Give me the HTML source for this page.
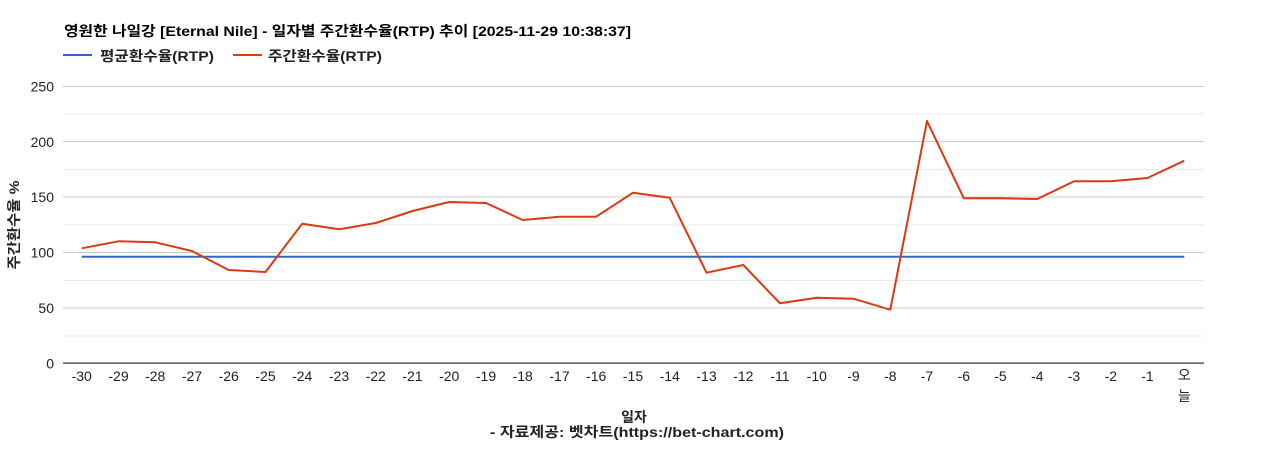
<!DOCTYPE html>
<html>
<head>
<meta charset="utf-8">
<style>
  html, body { margin:0; padding:0; background:#fff; }
  body { width:1268px; height:450px; overflow:hidden; }
  svg { display:block; }
  .t { font-family:"Liberation Sans","Noto Sans CJK KR",sans-serif; }
</style>
</head>
<body>
<svg width="1268" height="450" viewBox="0 0 1268 450" xmlns="http://www.w3.org/2000/svg">
  <rect x="0" y="0" width="1268" height="450" fill="#ffffff"/>

  <!-- Title -->
  <text class="t" x="64" y="36" font-size="14" font-weight="bold" fill="#000" textLength="567" lengthAdjust="spacingAndGlyphs">영원한 나일강 [Eternal Nile] - 일자별 주간환수율(RTP) 추이 [2025-11-29 10:38:37]</text>

  <!-- Legend -->
  <rect x="63" y="54" width="29" height="2" fill="#3366cc"/>
  <text class="t" x="100" y="61" font-size="14" font-weight="bold" fill="#222" textLength="114" lengthAdjust="spacingAndGlyphs">평균환수율(RTP)</text>
  <rect x="233" y="54" width="29" height="2" fill="#dc3912"/>
  <text class="t" x="268" y="61" font-size="14" font-weight="bold" fill="#222" textLength="114" lengthAdjust="spacingAndGlyphs">주간환수율(RTP)</text>

  <!-- Minor gridlines -->
  <g fill="#ebebeb">
    <rect x="63" y="113.5" width="1141" height="1"/>
    <rect x="63" y="169" width="1141" height="1"/>
    <rect x="63" y="224.5" width="1141" height="1"/>
    <rect x="63" y="280" width="1141" height="1"/>
    <rect x="63" y="335.5" width="1141" height="1"/>
  </g>
  <!-- Major gridlines -->
  <g fill="#cccccc">
    <rect x="63" y="86" width="1141" height="1"/>
    <rect x="63" y="141" width="1141" height="1"/>
    <rect x="63" y="196.5" width="1141" height="1"/>
    <rect x="63" y="252" width="1141" height="1"/>
    <rect x="63" y="307.5" width="1141" height="1"/>
  </g>

  <!-- Y labels -->
  <g class="t" font-size="14" fill="#222" text-anchor="end">
    <text x="54" y="91.5">250</text>
    <text x="54" y="147">200</text>
    <text x="54" y="202">150</text>
    <text x="54" y="257.5">100</text>
    <text x="54" y="313">50</text>
    <text x="54" y="368.5">0</text>
  </g>

  <!-- Y axis title -->
  <text class="t" transform="translate(19,225) rotate(-90)" x="0" y="0" font-size="14" font-weight="bold" fill="#222" text-anchor="middle" textLength="89" lengthAdjust="spacingAndGlyphs">주간환수율 %</text>

  <!-- Average line -->
  <line x1="81.7" y1="256.7" x2="1184.3" y2="256.7" stroke="#3366cc" stroke-width="2"/>

  <!-- Weekly RTP line -->
  <polyline fill="none" stroke="#dc3912" stroke-width="2" stroke-linejoin="round"
    points="81.7,248.3 118.5,241.3 155.2,242.3 192.0,251 228.7,270 265.5,272 302.2,223.7 339.0,229.3 375.7,223 412.5,211 449.2,202 486.0,203 522.7,220 559.5,216.7 596.2,216.7 633.0,192.7 669.7,197.7 706.5,272.7 743.3,265 780.0,303.3 816.8,297.7 853.5,298.7 890.3,309.7 927.0,121 963.8,198.3 1000.5,198.3 1037.3,199 1074.0,181.3 1110.8,181.3 1147.5,178 1184.3,160.7"/>

  <!-- Baseline -->
  <rect x="63" y="362.5" width="1141" height="1.2" fill="#333333"/>

  <!-- X labels -->
  <g class="t" font-size="14" fill="#222" text-anchor="middle">
    <text x="81.7" y="381">-30</text>
    <text x="118.5" y="381">-29</text>
    <text x="155.2" y="381">-28</text>
    <text x="192.0" y="381">-27</text>
    <text x="228.7" y="381">-26</text>
    <text x="265.5" y="381">-25</text>
    <text x="302.2" y="381">-24</text>
    <text x="339.0" y="381">-23</text>
    <text x="375.7" y="381">-22</text>
    <text x="412.5" y="381">-21</text>
    <text x="449.2" y="381">-20</text>
    <text x="486.0" y="381">-19</text>
    <text x="522.7" y="381">-18</text>
    <text x="559.5" y="381">-17</text>
    <text x="596.2" y="381">-16</text>
    <text x="633.0" y="381">-15</text>
    <text x="669.7" y="381">-14</text>
    <text x="706.5" y="381">-13</text>
    <text x="743.3" y="381">-12</text>
    <text x="780.0" y="381">-11</text>
    <text x="816.8" y="381">-10</text>
    <text x="853.5" y="381">-9</text>
    <text x="890.3" y="381">-8</text>
    <text x="927.0" y="381">-7</text>
    <text x="963.8" y="381">-6</text>
    <text x="1000.5" y="381">-5</text>
    <text x="1037.3" y="381">-4</text>
    <text x="1074.0" y="381">-3</text>
    <text x="1110.8" y="381">-2</text>
    <text x="1147.5" y="381">-1</text>
    <text x="1184.3" y="380">오</text>
    <text x="1184.3" y="401">늘</text>
  </g>

  <!-- X axis title & footer -->
  <text class="t" x="634" y="422" font-size="14" font-weight="bold" fill="#222" text-anchor="middle">일자</text>
  <text class="t" x="637" y="437" font-size="14" font-weight="bold" fill="#222" text-anchor="middle" textLength="294" lengthAdjust="spacingAndGlyphs">- 자료제공: 벳차트(https://bet-chart.com)</text>
</svg>
</body>
</html>
